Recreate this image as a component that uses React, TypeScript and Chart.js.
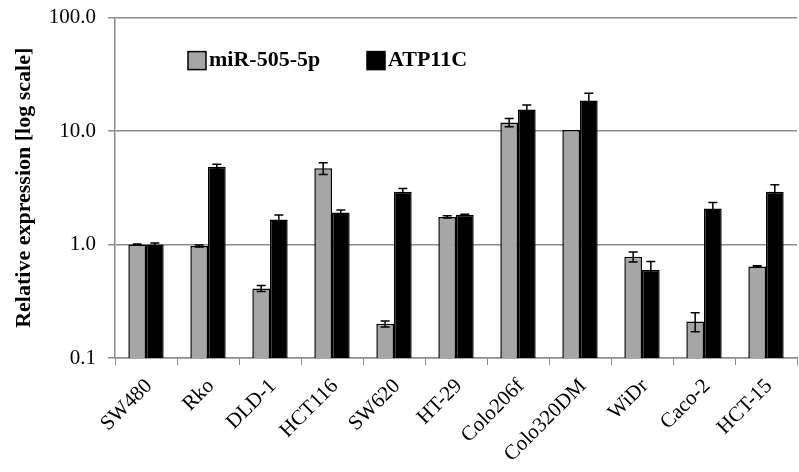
import React, { useEffect, useRef } from "react";
import { Chart, registerables } from "chart.js";

Chart.register(...registerables);

const categories = ["SW480", "Rko", "DLD-1", "HCT116", "SW620", "HT-29", "Colo206f", "Colo320DM", "WiDr", "Caco-2", "HCT-15"];
const mirValues = [1.0, 0.97, 0.41, 4.7, 0.2, 1.75, 11.9, 10.2, 0.78, 0.21, 0.64];
const mirErrors = [0.01, 0.02, 0.025, 0.55, 0.012, 0.04, 1.0, 0, 0.08, 0.04, 0.01];
const atpValues = [1.0, 4.85, 1.66, 1.92, 2.92, 1.83, 15.5, 18.6, 0.6, 2.08, 2.92];
const atpErrors = [0.03, 0.25, 0.16, 0.1, 0.2, 0.02, 1.5, 2.9, 0.11, 0.27, 0.45];
const yTicks = [0.1, 1, 10, 100];
const seriesLabels = ["miR-505-5p", "ATP11C"];

const SERIF = "'Liberation Serif', 'Times New Roman', serif";
const GRID = "#8c8c8c";
const SHIFT = 7;

const errorBarPlugin = {
  id: "errorBars",
  afterDatasetsDraw(chart: any) {
    const ctx = chart.ctx;
    const yScale = chart.scales.y;
    const errs = [mirErrors, atpErrors];
    ctx.save();
    ctx.strokeStyle = "#000";
    ctx.lineWidth = 1.5;
    chart.data.datasets.forEach((ds: any, i: number) => {
      const meta = chart.getDatasetMeta(i);
      meta.data.forEach((bar: any, j: number) => {
        const v = ds.data[j];
        const e = errs[i][j];
        if (!e) return;
        const x = bar.x;
        const top = yScale.getPixelForValue(v + e);
        const bot = yScale.getPixelForValue(Math.max(v - e, 0.1001));
        const cap = 4.5;
        ctx.beginPath();
        ctx.moveTo(x, top);
        ctx.lineTo(x, bot);
        ctx.moveTo(x - cap, top);
        ctx.lineTo(x + cap, top);
        ctx.moveTo(x - cap, bot);
        ctx.lineTo(x + cap, bot);
        ctx.stroke();
      });
    });
    ctx.restore();
  },
};

const legendPlugin = {
  id: "insideLegend",
  afterDraw(chart: any) {
    const ctx = chart.ctx;
    const area = chart.chartArea;
    const items = [
      { label: seriesLabels[0], fill: "#a6a6a6", x: area.left + 73 },
      { label: seriesLabels[1], fill: "#000000", x: area.left + 252 },
    ];
    ctx.save();
    ctx.font = "bold 22px " + SERIF;
    ctx.textBaseline = "middle";
    ctx.fillStyle = "#000";
    items.forEach((it) => {
      const y = area.top + 34;
      ctx.fillStyle = it.fill;
      ctx.fillRect(it.x, y, 18, 18);
      ctx.strokeStyle = "#000";
      ctx.lineWidth = 1.5;
      ctx.strokeRect(it.x, y, 18, 18);
      ctx.fillStyle = "#000";
      ctx.fillText(it.label, it.x + 21, y + 9);
    });
    ctx.restore();
  },
};

export default function App() {
  const ref = useRef<HTMLCanvasElement | null>(null);
  useEffect(() => {
    document.body.style.margin = "0";
    if (!ref.current) return;
    const chart = new Chart(ref.current, {
      type: "bar",
      data: {
        labels: categories,
        datasets: [
          {
            label: seriesLabels[0],
            data: mirValues,
            backgroundColor: "#a6a6a6",
            borderColor: "#000",
            borderWidth: 1.5,
            categoryPercentage: 0.57,
            barPercentage: 1,
          },
          {
            label: seriesLabels[1],
            data: atpValues,
            backgroundColor: "#000",
            borderColor: "#000",
            borderWidth: 1.5,
            categoryPercentage: 0.57,
            barPercentage: 1,
          },
        ],
      },
      options: {
        animation: false,
        responsive: false,
        maintainAspectRatio: false,
        layout: { padding: { top: 10, right: 2, left: 0, bottom: 0 } },
        plugins: { legend: { display: false }, tooltip: { enabled: false } },
        scales: {
          x: {
            afterFit: (s: any) => {
              s.height = 114;
            },
            grid: { display: true, drawOnChartArea: false, tickLength: 7, color: GRID, offset: true },
            border: { color: GRID, width: 1.5 },
            ticks: {
              color: "#000",
              font: { family: SERIF, size: 21 },
              minRotation: 45,
              maxRotation: 45,
              autoSkip: false,
              padding: 9,
              labelOffset: 3,
            },
          },
          y: {
            type: "logarithmic",
            min: 0.1,
            max: 100,
            afterFit: (s: any) => {
              s.width = 115;
            },
            afterBuildTicks: (s: any) => {
              s.ticks = yTicks.map((v) => ({ value: v }));
            },
            grid: { color: GRID, lineWidth: 1.5, tickLength: 7 },
            border: { color: GRID, width: 1.5 },
            ticks: {
              color: "#000",
              font: { family: SERIF, size: 21 },
              padding: 12,
              callback: (v: any) => Number(v).toFixed(1),
            },
            title: {
              display: true,
              text: "Relative expression [log scale]",
              color: "#000",
              font: { family: SERIF, size: 22, weight: "bold" },
              padding: { top: 11, bottom: 0 },
            },
          },
        },
      },
      plugins: [errorBarPlugin, legendPlugin],
    });
    return () => chart.destroy();
  }, []);
  return (
    <div style={{ width: 799, height: 472, overflow: "hidden" }}>
      <canvas
        ref={ref}
        width={799}
        height={472 + SHIFT}
        style={{ display: "block", marginTop: -SHIFT }}
      />
    </div>
  );
}
